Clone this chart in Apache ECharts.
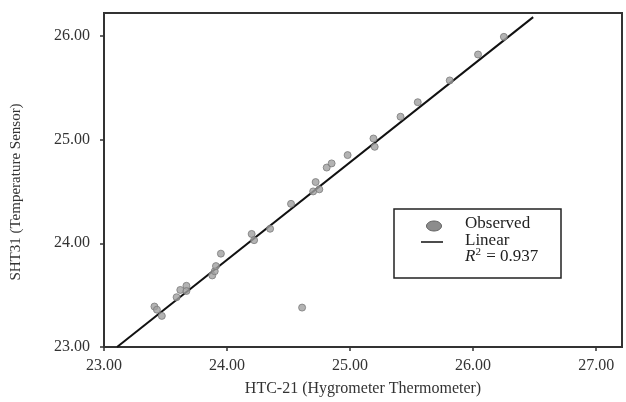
<!DOCTYPE html>
<html>
<head>
<meta charset="utf-8">
<script src="https://cdn.jsdelivr.net/npm/echarts@6/dist/echarts.min.js"></script>
<style>
  html, body { margin: 0; padding: 0; background: #fff; }
  #chart { width: 626px; height: 402px; }
</style>
</head>
<body>
<div id="chart"></div>
<script>
// observed readings, HTC-21 vs SHT31
var htcValues = [23.41, 23.43, 23.47, 23.59, 23.62, 23.67, 23.67, 23.88, 23.90, 23.91,
  23.95, 24.20, 24.22, 24.35, 24.52, 24.70, 24.72, 24.75, 24.81, 24.85,
  24.98, 25.19, 25.20, 25.41, 25.55, 25.81, 26.04, 26.25, 24.61];
var shtValues = [23.39, 23.36, 23.30, 23.48, 23.55, 23.59, 23.54, 23.69, 23.73, 23.78,
  23.90, 24.09, 24.03, 24.14, 24.38, 24.50, 24.59, 24.52, 24.73, 24.77,
  24.85, 25.01, 24.93, 25.22, 25.36, 25.57, 25.82, 25.99, 23.38];

// fitted line end points
var fitX = [23.106, 26.488];
var fitY = [23.0, 26.18];

var xTicks = [23, 24, 25, 26, 27];
var yTicks = [23, 24, 25, 26];

var observed = [];
for (var i = 0; i < htcValues.length; i++) {
  observed.push([htcValues[i], shtValues[i]]);
}
var fitLine = [];
for (var j = 0; j < fitX.length; j++) {
  fitLine.push([fitX[j], fitY[j]]);
}

var font = 'Liberation Serif';
var chart = echarts.init(document.getElementById('chart'));

chart.setOption({
  animation: false,
  grid: {
    left: 104,
    right: 4,
    top: 13,
    bottom: 51,
    show: true,
    borderColor: '#333',
    borderWidth: 2
  },
  xAxis: {
    type: 'value',
    min: 23,
    max: 27.21,
    interval: 1,
    name: 'HTC-21 (Hygrometer Thermometer)',
    nameLocation: 'middle',
    nameGap: 34,
    nameTextStyle: { fontFamily: font, fontSize: 16, color: '#333' },
    splitLine: { show: false },
    axisLine: { lineStyle: { color: '#333', width: 2 } },
    axisTick: { show: true, length: 4, customValues: xTicks, lineStyle: { color: '#333', width: 1.5 } },
    axisLabel: {
      customValues: xTicks,
      margin: 11,
      fontFamily: font,
      fontSize: 16,
      color: '#333',
      formatter: function (v) { return v.toFixed(2); }
    }
  },
  yAxis: {
    type: 'value',
    min: 23,
    max: 26.22,
    interval: 1,
    name: 'SHT31 (Temperature Sensor)',
    nameLocation: 'middle',
    nameGap: 80,
    nameTextStyle: { fontFamily: font, fontSize: 15, color: '#333', padding: [0, 24, 0, 0] },
    splitLine: { show: false },
    axisLine: { lineStyle: { color: '#333', width: 2 } },
    axisTick: { show: true, length: 4, customValues: yTicks, lineStyle: { color: '#333', width: 1.5 } },
    axisLabel: {
      customValues: yTicks,
      margin: 14,
      fontFamily: font,
      fontSize: 16,
      color: '#333',
      formatter: function (v) { return v.toFixed(2); }
    }
  },
  series: [
    {
      name: 'Linear',
      type: 'line',
      data: fitLine,
      symbol: 'none',
      lineStyle: { color: '#111', width: 2 },
      z: 3
    },
    {
      name: 'Observed',
      type: 'scatter',
      data: observed,
      symbolSize: 7,
      itemStyle: { color: '#a0a0a0', borderColor: '#7a7a7a', borderWidth: 1 },
      z: 4
    }
  ],
  graphic: [
    {
      type: 'rect',
      shape: { x: 394, y: 209, width: 167, height: 69 },
      style: { fill: '#fff', stroke: '#222', lineWidth: 1.5 },
      z: 10
    },
    {
      type: 'ellipse',
      shape: { cx: 434, cy: 226, rx: 7.5, ry: 5 },
      style: { fill: '#8c8c8c', stroke: '#666', lineWidth: 1 },
      z: 11
    },
    {
      type: 'line',
      shape: { x1: 421, y1: 242, x2: 443, y2: 242 },
      style: { stroke: '#111', lineWidth: 1.5 },
      z: 11
    },
    {
      type: 'text',
      left: 465, top: 215,
      style: { text: 'Observed', font: '17px ' + font, fill: '#222' },
      z: 11
    },
    {
      type: 'text',
      left: 465, top: 232,
      style: { text: 'Linear', font: '17px ' + font, fill: '#222' },
      z: 11
    },
    {
      type: 'text',
      left: 465, top: 247,
      style: {
        text: '{i|R}{s|2}{n| = 0.937}',
        rich: {
          i: { fontFamily: font, fontSize: 17, fontStyle: 'italic', fill: '#222' },
          s: { fontFamily: font, fontSize: 11, fill: '#222', verticalAlign: 'top', padding: [0, 1, 8, 0] },
          n: { fontFamily: font, fontSize: 17, fill: '#222' }
        }
      },
      z: 11
    }
  ]
});
</script>
</body>
</html>
